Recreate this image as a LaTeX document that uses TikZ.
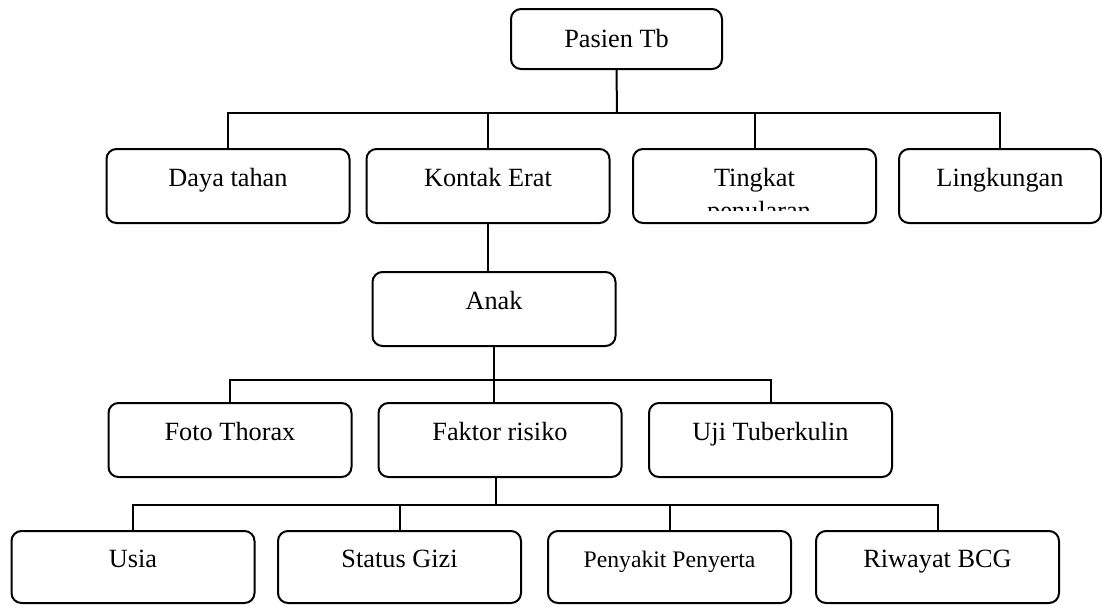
\documentclass[tikz,border=0pt]{standalone}
\usepackage{fontspec}
\setmainfont{Liberation Serif}
\begin{document}
\begin{tikzpicture}[x=0.5pt, y=-0.5pt, line width=1pt,
                box/.style={draw, rounded corners=5pt, minimum width=121.5pt, minimum height=37pt, inner sep=0pt, font=\fontsize{13.15}{15.8}\selectfont},
                mid/.style={box, text height=8pt, text depth=8pt}]
                \useasboundingbox (0,0) rectangle (1102,605);
                % Top
                \node[box, minimum width=105.5pt, minimum height=30pt] (pasien) at (616.5,39) {Pasien Tb};
                \coordinate (bus1) at (617,113);
                % Row 2
                \foreach \n/\x/\t in {daya/228/Daya tahan, kontak/488/Kontak Erat, tingkat/754.5/Tingkat} \node[mid] (\n) at (\x,186) {\t};
                \node[mid, minimum width=101pt] (lingkungan) at (1000,186) {Lingkungan};
                \begin{scope}
                    \clip (tingkat.west |- 0,195) rectangle (tingkat.east |- 0,210);
                    \node[anchor=base, font=\fontsize{13.15}{15.8}\selectfont] (penularan) at (759,219) {penularan};
                \end{scope}
                % Anak
                \node[mid] (anak) at (494,309) {Anak};
                \coordinate (bus2) at (494,380);
                % Row 3
                \foreach \n/\x/\t in {foto/230/Foto Thorax, faktor/500/Faktor risiko, uji/770.5/Uji Tuberkulin} \node[mid] (\n) at (\x,440) {\t};
                \coordinate (bus3) at (496,505);
                % Row 4
                \foreach \n/\x/\t in {usia/133/Usia, status/399.5/Status Gizi, riwayat/937.5/Riwayat BCG} \node[mid, minimum height=36pt] (\n) at (\x,567) {\t};
                \node[mid, minimum height=36pt, font=\fontsize{11.85}{14.2}\selectfont] (penyakit) at (669.5,567) {Penyakit Penyerta};
                % Lines
                \draw (pasien.south) -- (bus1);
                \foreach \n in {daya, kontak, tingkat, lingkungan} \draw (\n.north) |- (bus1);
                \draw (kontak.south) -- (kontak.south |- anak.north);
                \draw (anak.south) -- (bus2);
                \foreach \n in {foto, uji} \draw (\n.north) |- (bus2);
                \draw (bus2) -- (bus2 |- faktor.north);
                \draw (bus3 |- faktor.south) -- (bus3);
                \foreach \n in {usia, status, penyakit, riwayat} \draw (\n.north) |- (bus3);
            \end{tikzpicture}
\end{document}
